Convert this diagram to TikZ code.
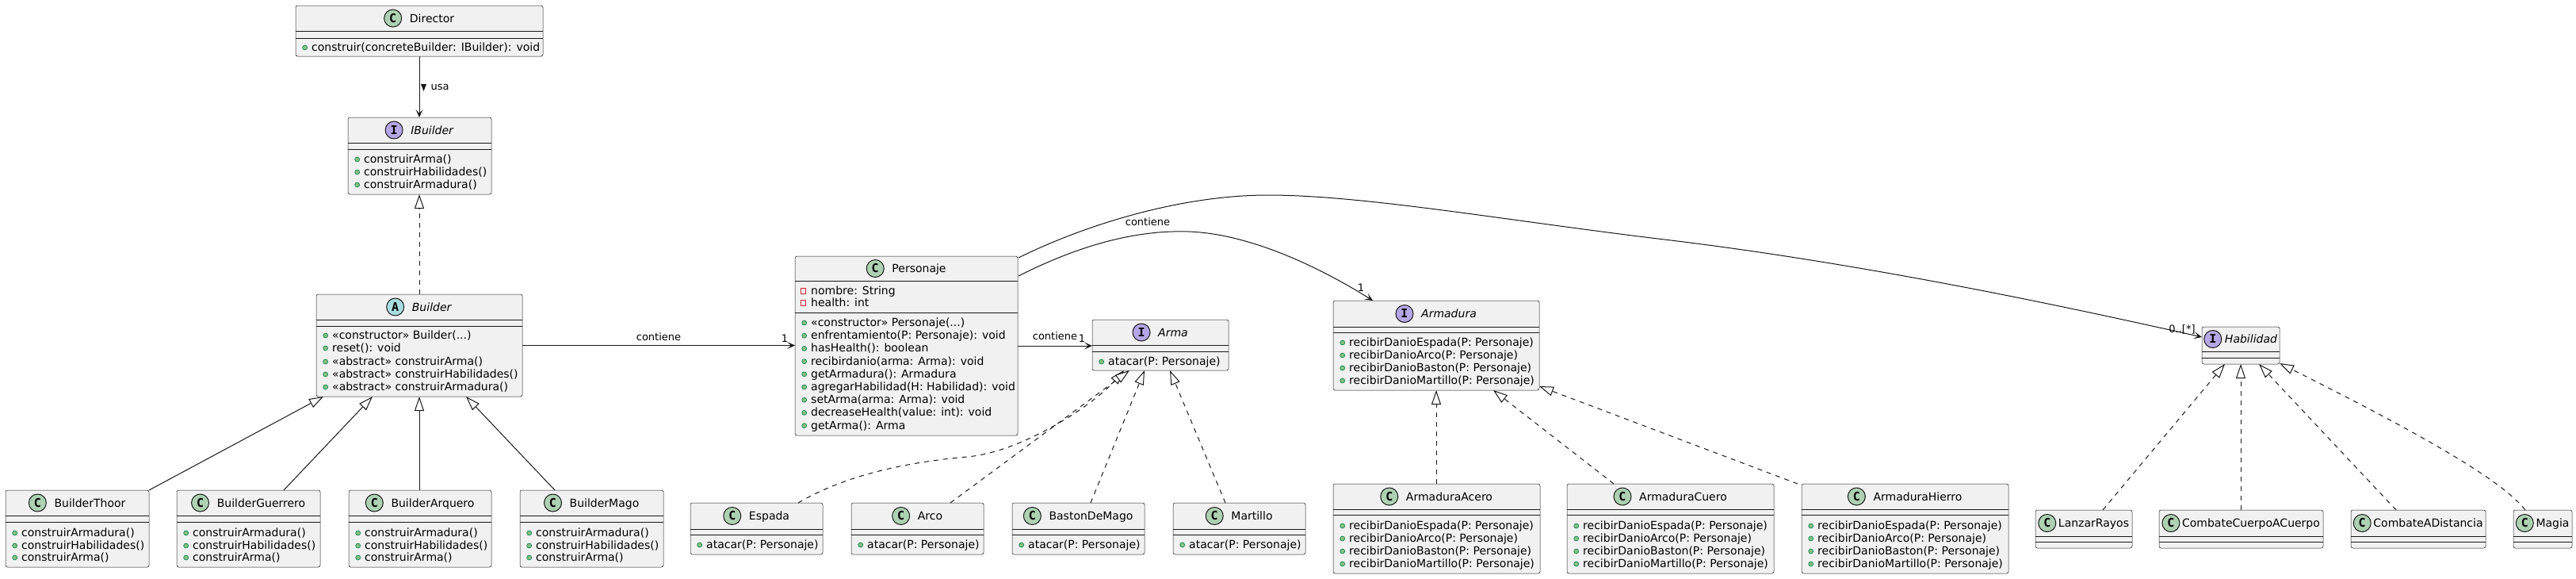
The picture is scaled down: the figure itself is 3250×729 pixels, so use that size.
\documentclass[tikz,border=0pt]{standalone}
\usepackage{fontspec}
\setmainfont{DejaVu Sans}
\newfontfamily\iconfont{DejaVu Sans Mono}
\usetikzlibrary{arrows.meta,calc}
\definecolor{boxfill}{HTML}{F1F1F1}
\definecolor{boxline}{HTML}{181818}
\definecolor{cicon}{HTML}{ADD1B2}
\definecolor{aicon}{HTML}{A9DCDF}
\definecolor{iicon}{HTML}{B4A7E5}
\definecolor{pubfill}{HTML}{84BE84}
\definecolor{publine}{HTML}{038048}
\definecolor{privline}{HTML}{C82930}
\newcounter{memc}
\newcommand\clsgap{10}
\newcommand\umlcls[9]{%
  \pgfmathsetmacro\bw{#4-#2}\pgfmathsetmacro\bh{#5-#3}%
  \node[umlbox, minimum width=\bw pt, minimum height=\bh pt] (#1) at ({(#2+#4)/2},{(#3+#5)/2}) {};
  \draw[umlsep] (#2,#6) -- (#4,#6) (#2,#7) -- (#4,#7);
  \node[umlname] (#1-n) at ({(#2+#4)/2+(22+\clsgap)/2},{(#3+#6)/2}) {#9};
  \node[icon#8] (#1-i) at ([xshift=-11pt-\clsgap pt]#1-n.west) {#8};
}
\newcommand\pubmem[3]{%
  \stepcounter{memc}%
  \fill[pubfill, draw=publine, line width=0.6pt] ({#1+11.7},#2) circle[radius=3pt];
  \node[memtext] (mem\arabic{memc}) at ({#1+20},{#2+4.5}) {#3};
}
\newcommand\privmem[3]{%
  \stepcounter{memc}%
  \draw[privline, line width=0.8pt] ({#1+7},{#2-3.2}) rectangle ({#1+13.5},{#2+3.2});
  \node[memtext] (mem\arabic{memc}) at ({#1+20},{#2+4.5}) {#3};
}
\begin{document}
\begin{tikzpicture}[x=1pt,y=-1pt,
  umlbox/.style={draw=boxline, line width=0.5pt, fill=boxfill, rounded corners=2.5pt, inner sep=0pt, outer sep=0pt},
  umlsep/.style={draw=boxline, line width=0.5pt},
  umlname/.style={inner sep=0pt, text height=10.2pt, text depth=0pt, font=\fontsize{14}{16}\selectfont},
  iconbase/.style={circle, draw=boxline, line width=1pt, minimum size=22pt, inner sep=0pt, font=\fontsize{15}{15}\iconfont\bfseries},
  iconC/.style={iconbase, fill=cicon},
  iconA/.style={iconbase, fill=aicon},
  iconI/.style={iconbase, fill=iicon},
  memtext/.style={anchor=base west, inner sep=0pt, font=\fontsize{14}{16}\selectfont},
  lbl/.style={inner sep=0pt, font=\fontsize{13}{15}\selectfont},
  assoc/.style={draw=boxline, line width=1pt, -{Stealth[length=10pt,width=9pt,inset=5pt]}},
  gen/.style={draw=boxline, line width=1pt, -{Triangle[length=18pt,width=12pt,fill=white]}},
  realz/.style={gen, dash pattern=on 6pt off 6pt}]
\useasboundingbox (0,0) rectangle (3250,729);
\fill[white] (0,0) rectangle (3250,729);

% Director / IBuilder / Builder
\umlcls{director}{373}{7}{685}{71}{39}{48}{C}{Director}
\pubmem{373}{60}{construir(concreteBuilder: IBuilder): void}

\umlcls{ibuilder}{439}{148}{620}{245}{180}{188}{I}{\textit{IBuilder}}
\pubmem{439}{201}{construirArma()}
\pubmem{439}{217}{construirHabilidades()}
\pubmem{439}{233}{construirArmadura()}

\umlcls{builder}{399}{371}{659}{500}{403}{411}{A}{\textit{Builder}}
\pubmem{399}{423}{«constructor» Builder(...)}
\pubmem{399}{439}{reset(): void}
\pubmem{399}{456}{«abstract» construirArma()}
\pubmem{399}{472}{«abstract» construirHabilidades()}
\pubmem{399}{488}{«abstract» construirArmadura()}

% Concrete builders
\umlcls{thoor}{7}{618}{188}{715}{650}{658}{C}{BuilderThoor}
\pubmem{7}{672}{construirArmadura()}
\pubmem{7}{688}{construirHabilidades()}
\pubmem{7}{703}{construirArma()}
\umlcls{guerrero}{223}{618}{404}{715}{650}{658}{C}{BuilderGuerrero}
\pubmem{223}{672}{construirArmadura()}
\pubmem{223}{688}{construirHabilidades()}
\pubmem{223}{703}{construirArma()}
\umlcls{arquero}{440}{618}{620}{715}{650}{658}{C}{BuilderArquero}
\pubmem{440}{672}{construirArmadura()}
\pubmem{440}{688}{construirHabilidades()}
\pubmem{440}{703}{construirArma()}
\umlcls{mago}{656}{618}{837}{715}{650}{658}{C}{BuilderMago}
\pubmem{656}{672}{construirArmadura()}
\pubmem{656}{688}{construirHabilidades()}
\pubmem{656}{703}{construirArma()}

% Personaje
\umlcls{personaje}{1003}{323}{1284}{549}{354}{394}{C}{Personaje}
\privmem{1003}{367}{nombre: String}
\privmem{1003}{382}{health: int}
\pubmem{1003}{407}{«constructor» Personaje(...)}
\pubmem{1003}{423.2}{enfrentamiento(P: Personaje): void}
\pubmem{1003}{439.4}{hasHealth(): boolean}
\pubmem{1003}{455.6}{recibirdanio(arma: Arma): void}
\pubmem{1003}{471.8}{getArmadura(): Armadura}
\pubmem{1003}{488}{agregarHabilidad(H: Habilidad): void}
\pubmem{1003}{504.2}{setArma(arma: Arma): void}
\pubmem{1003}{520.4}{decreaseHealth(value: int): void}
\pubmem{1003}{536.6}{getArma(): Arma}

% Arma
\umlcls{arma}{1378}{403}{1550}{467}{435}{443}{I}{\textit{Arma}}
\pubmem{1378}{456}{atacar(P: Personaje)}
\umlcls{espada}{871}{634}{1038}{699}{667}{674}{C}{Espada}
\pubmem{871}{687}{atacar(P: Personaje)}
\umlcls{arco}{1074}{634}{1241}{699}{667}{674}{C}{Arco}
\pubmem{1074}{687}{atacar(P: Personaje)}
\umlcls{baston}{1277}{634}{1444}{699}{667}{674}{C}{BastonDeMago}
\pubmem{1277}{687}{atacar(P: Personaje)}
\umlcls{martillo}{1480}{634}{1647}{699}{667}{674}{C}{Martillo}
\pubmem{1480}{687}{atacar(P: Personaje)}

% Armadura
\umlcls{armadura}{1682}{379}{1942}{492}{412}{419}{I}{\textit{Armadura}}
\pubmem{1682}{432}{recibirDanioEspada(P: Personaje)}
\pubmem{1682}{448}{recibirDanioArco(P: Personaje)}
\pubmem{1682}{464}{recibirDanioBaston(P: Personaje)}
\pubmem{1682}{480}{recibirDanioMartillo(P: Personaje)}
\umlcls{acero}{1682}{610}{1943}{723}{642}{649}{C}{ArmaduraAcero}
\pubmem{1682}{663}{recibirDanioEspada(P: Personaje)}
\pubmem{1682}{679}{recibirDanioArco(P: Personaje)}
\pubmem{1682}{695}{recibirDanioBaston(P: Personaje)}
\pubmem{1682}{711}{recibirDanioMartillo(P: Personaje)}
\umlcls{cuero}{1977}{610}{2238}{723}{642}{649}{C}{ArmaduraCuero}
\pubmem{1977}{663}{recibirDanioEspada(P: Personaje)}
\pubmem{1977}{679}{recibirDanioArco(P: Personaje)}
\pubmem{1977}{695}{recibirDanioBaston(P: Personaje)}
\pubmem{1977}{711}{recibirDanioMartillo(P: Personaje)}
\umlcls{hierro}{2273}{610}{2534}{723}{642}{649}{C}{ArmaduraHierro}
\pubmem{2273}{663}{recibirDanioEspada(P: Personaje)}
\pubmem{2273}{679}{recibirDanioArco(P: Personaje)}
\pubmem{2273}{695}{recibirDanioBaston(P: Personaje)}
\pubmem{2273}{711}{recibirDanioMartillo(P: Personaje)}

% Habilidad
\renewcommand\clsgap{4}
\umlcls{habilidad}{2778}{412}{2876}{459}{443}{451}{I}{\textit{Habilidad}}
\renewcommand\clsgap{3}
\umlcls{lanzar}{2568}{643}{2690}{691}{676}{683}{C}{LanzarRayos}
\umlcls{ccac}{2724}{643}{2931}{691}{676}{683}{C}{CombateCuerpoACuerpo}
\umlcls{cad}{2966}{643}{3136}{691}{676}{683}{C}{CombateADistancia}
\umlcls{magia}{3171}{643}{3245}{691}{676}{683}{C}{Magia}

% ---- connectors ----
\draw[assoc] (director.south) -- (director.south |- ibuilder.north);
\fill[boxline] (531,106) -- (538,106) -- (534.5,115) -- cycle;
\node[lbl] (usalbl) at (555,110) {usa};

\draw[realz] (builder.north) -- (builder.north |- ibuilder.south);

\draw[gen] (thoor.north east) -- ($(builder.south west)+(9,0)$);
\draw[gen] ($(guerrero.north west)+(135,0)$) -- ($(builder.south west)+(71,0)$);
\draw[gen] (builder.south |- arquero.north) -- (builder.south);
\draw[gen] ($(mago.north west)+(44,0)$) -- ($(builder.south west)+(189,0)$);

\draw[assoc] (builder.east) -- (builder.east -| personaje.west);
\node[lbl] (c1) at (831,425) {contiene};
\node[lbl] (c1m) at (990,427) {1};

\draw[assoc] (personaje.east) -- (personaje.east -| arma.west);
\node[lbl] (c2) at (1331,424) {contiene};
\node[lbl] (c2m) at (1365,427) {1};

\draw[assoc] ($(personaje.north east)+(1,25)$) .. controls (1370,305) and (1440,290) .. (1500,292)
  .. controls (1580,295) and (1670,340) .. ($(armadura.north west)+(50,0)$);
\node[lbl] (c3) at (1448,280) {contiene};
\node[lbl] (c3m) at (1717,363) {1};

\draw[assoc] ($(personaje.north east)+(1,2)$) .. controls (1370,283) and (1490,246) .. (1600,246)
  .. controls (1720,246) and (1900,278) .. (2100,302)
  .. controls (2350,332) and (2600,385) .. ($(habilidad.north west)+(0,13)$);
\node[lbl] (c4m) at (2753,415) {0..[*]};

% Arma realizations
\draw[realz] ($(espada.north west)+(136,0)$) .. controls (1060,603) and (1130,584) .. (1220,576)
  .. controls (1290,570) and (1380,510) .. ($(arma.south west)+(40,0)$);
\draw[realz] ($(arco.north west)+(125,0)$) -- ($(arma.south west)+(47,0)$);
\draw[realz] ($(baston.north west)+(99,0)$) -- ($(arma.south west)+(66,0)$);
\draw[realz] ($(martillo.north west)+(66,0)$) -- ($(arma.south west)+(98,0)$);

% Armadura realizations
\draw[realz] ($(acero.north west)+(130,0)$) -- ($(armadura.south west)+(130,0)$);
\draw[realz] ($(cuero.north west)+(59,0)$) -- ($(armadura.south west)+(202,0)$);
\draw[realz] ($(hierro.north west)+(-5,0)$) -- ($(armadura.south east)+(0,-5)$);

% Habilidad realizations
\draw[realz] ($(lanzar.north west)+(85,0)$) -- ($(habilidad.south west)+(29,0)$);
\draw[realz] ($(ccac.north west)+(103,0)$) -- ($(habilidad.south west)+(49,0)$);
\draw[realz] ($(cad.north west)+(57,0)$) -- ($(habilidad.south west)+(72,0)$);
\draw[realz] ($(magia.north west)+(15,0)$) .. controls (3160,610) and (3080,560) .. ($(habilidad.south east)+(0,-1)$);
\end{tikzpicture}
\end{document}
